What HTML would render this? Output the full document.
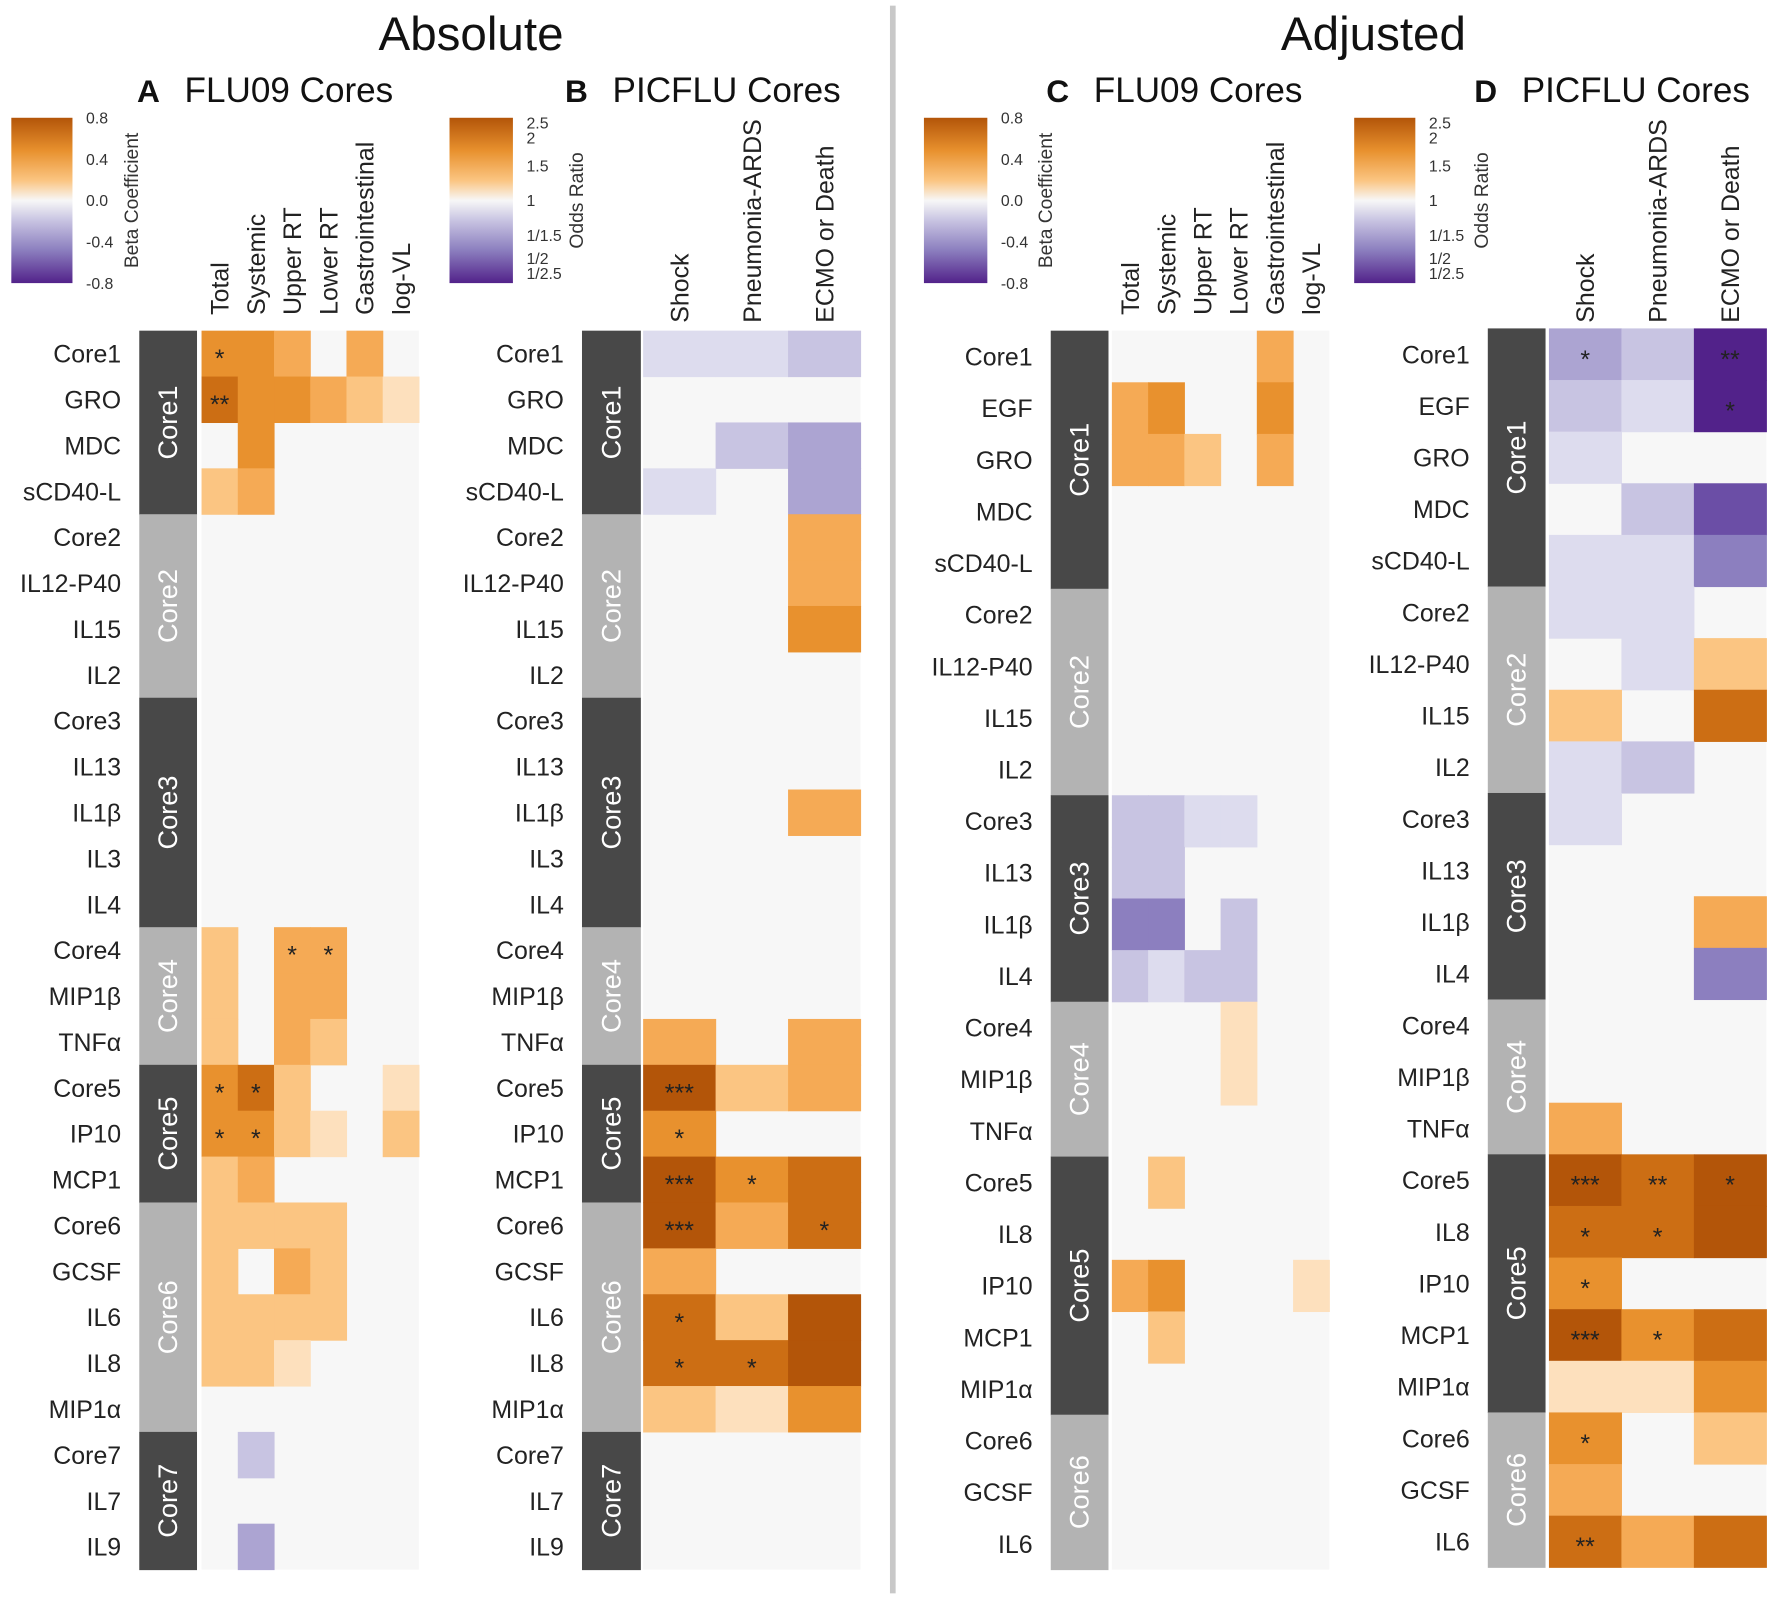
<!DOCTYPE html>
<html><head><meta charset="utf-8"><style>
html,body{margin:0;padding:0;background:#fff;}
svg{display:block;font-family:"Liberation Sans",Arial,sans-serif;}
</style></head><body>
<svg id="chart" width="1772" height="1599" viewBox="0 0 1565 1412" preserveAspectRatio="none" xmlns="http://www.w3.org/2000/svg">
<defs>
<linearGradient id="cb" x1="0" y1="0" x2="0" y2="1">
<stop offset="0" stop-color="#b35509"/><stop offset="0.2" stop-color="#e8912e"/><stop offset="0.38" stop-color="#fbc582"/><stop offset="0.5" stop-color="#f7f7f7"/><stop offset="0.62" stop-color="#c8c4e2"/><stop offset="0.8" stop-color="#8c7fbf"/><stop offset="1" stop-color="#52228a"/>
</linearGradient>
</defs>
<g id="root"></g>
</svg>
<script>
const rowsAB = ["Core1","GRO","MDC","sCD40-L","Core2","IL12-P40","IL15","IL2","Core3","IL13","IL1β","IL3","IL4","Core4","MIP1β","TNFα","Core5","IP10","MCP1","Core6","GCSF","IL6","IL8","MIP1α","Core7","IL7","IL9"];
const rowsCD = ["Core1","EGF","GRO","MDC","sCD40-L","Core2","IL12-P40","IL15","IL2","Core3","IL13","IL1β","IL4","Core4","MIP1β","TNFα","Core5","IL8","IP10","MCP1","MIP1α","Core6","GCSF","IL6"];
const coresAB = [["Core1",4,1],["Core2",4,0],["Core3",5,1],["Core4",3,0],["Core5",3,1],["Core6",5,0],["Core7",3,1]];
const coresCD = [["Core1",5,1],["Core2",4,0],["Core3",4,1],["Core4",3,0],["Core5",5,1],["Core6",3,0]];
const colsAC = ["Total","Systemic","Upper RT","Lower RT","Gastrointestinal","log-VL"];
const colsBD = ["Shock","Pneumonia-ARDS","ECMO or Death"];
const valsA = [[4,4,3,0,3,0],[5,4,4,3,2,1],[0,4,0,0,0,0],[2,3,0,0,0,0],[0,0,0,0,0,0],[0,0,0,0,0,0],[0,0,0,0,0,0],[0,0,0,0,0,0],[0,0,0,0,0,0],[0,0,0,0,0,0],[0,0,0,0,0,0],[0,0,0,0,0,0],[0,0,0,0,0,0],[2,0,3,3,0,0],[2,0,3,3,0,0],[2,0,3,2,0,0],[4,5,2,0,0,1],[4,4,2,1,0,2],[2,3,0,0,0,0],[2,2,2,2,0,0],[2,0,3,2,0,0],[2,2,2,2,0,0],[2,2,1,0,0,0],[0,0,0,0,0,0],[0,-2,0,0,0,0],[0,0,0,0,0,0],[0,-3,0,0,0,0]];
const starsA = [["*","","","","",""],["**","","","","",""],[],[],[],[],[],[],[],[],[],[],[],["","","*","*","",""],[],[],["*","*","","","",""],["*","*","","","",""],[],[],[],[],[],[],[],[],[]];
const valsB = [[-1,-1,-2],[0,0,0],[0,-2,-3],[-1,0,-3],[0,0,3],[0,0,3],[0,0,4],[0,0,0],[0,0,0],[0,0,0],[0,0,3],[0,0,0],[0,0,0],[0,0,0],[0,0,0],[3,0,3],[6,2,3],[4,0,0],[6,4,5],[6,3,5],[3,0,0],[5,2,6],[5,5,6],[2,1,4],[0,0,0],[0,0,0],[0,0,0]];
const starsB = [[],[],[],[],[],[],[],[],[],[],[],[],[],[],[],[],["***","",""],["*","",""],["***","*",""],["***","","*"],[],["*","",""],["*","*",""],[],[],[],[]];
const valsC = [[0,0,0,0,3,0],[3,4,0,0,4,0],[3,3,2,0,3,0],[0,0,0,0,0,0],[0,0,0,0,0,0],[0,0,0,0,0,0],[0,0,0,0,0,0],[0,0,0,0,0,0],[0,0,0,0,0,0],[-2,-2,-1,-1,0,0],[-2,-2,0,0,0,0],[-4,-4,0,-2,0,0],[-2,-1,-2,-2,0,0],[0,0,0,1,0,0],[0,0,0,1,0,0],[0,0,0,0,0,0],[0,2,0,0,0,0],[0,0,0,0,0,0],[3,4,0,0,0,1],[0,2,0,0,0,0],[0,0,0,0,0,0],[0,0,0,0,0,0],[0,0,0,0,0,0],[0,0,0,0,0,0]];
const starsC = [];
const valsD = [[-3,-2,-6],[-2,-1,-6],[-1,0,0],[0,-2,-5],[-1,-1,-4],[-1,-1,0],[0,-1,2],[2,0,5],[-1,-2,0],[-1,0,0],[0,0,0],[0,0,3],[0,0,-4],[0,0,0],[0,0,0],[3,0,0],[6,5,6],[5,5,6],[4,0,0],[6,4,5],[1,1,4],[4,0,2],[3,0,0],[5,3,5]];
const starsD = [["*","","**"],["","","*"],[],[],[],[],[],[],[],[],[],[],[],[],[],[],["***","**","*"],["*","*",""],["*","",""],["***","*",""],[],["*","",""],[],["**","",""]];
const colorPos = ["#f7f7f7","#fde0bd","#fbc582","#f5aa55","#e8912e","#cc6e14","#b35509"];
const colorNeg = ["#f7f7f7","#dddcee","#c8c4e2","#aca4d2","#8c7fbf","#6b4ea6","#52228a"];

const NS="http://www.w3.org/2000/svg";
const root=document.getElementById("root");
function mk(tag,attrs,parent){const e=document.createElementNS(NS,tag);for(const k in attrs)e.setAttribute(k,attrs[k]);(parent||root).appendChild(e);return e;}
function txt(s,attrs,parent){const e=mk("text",attrs,parent);e.textContent=s;return e;}
function color(v){return v>=0?colorPos[v]:colorNeg[-v];}

function panel(p){
  const g=mk("g",{});
  
  
  const n=p.rows.length, rh=(p.y1-p.y0)/n, cw=(p.cx1-p.cx0)/p.cols.length;
  const yS=i=>p.y0+i*rh, xS=j=>p.cx0+j*cw;
  const bg=mk("rect",{x:p.cx0,y:p.y0,width:p.cx1-p.cx0,height:p.y1-p.y0,fill:"#f7f7f7"},g);
  
  
  p.vals.forEach((row,i)=>row.forEach((v,j)=>{
    if(v===0)return;
    const r=mk("rect",{x:xS(j),y:yS(i),width:cw+0.5,height:rh+0.5,fill:color(v)},g);
    
    
  }));
  p.stars.forEach((row,i)=>(row||[]).forEach((s,j)=>{
    if(!s)return;
    const t=txt(s,{x:xS(j)+cw/2,y:yS(i)+rh/2+12,"text-anchor":"middle","font-size":22,fill:"#222"},g);
    
    
  }));
  p.rows.forEach((r,i)=>{
    const t=txt(r,{x:p.lx,y:yS(i)+rh/2+8,"text-anchor":"end","font-size":22,fill:"#222"},g);
    
    
  });
  let k=0;
  p.cores.forEach(c=>{
    const y=yS(k),h=c[1]*rh;k+=c[1];
    const r=mk("rect",{x:p.bx0,y:y,width:p.bx1-p.bx0,height:h+0.5,fill:c[2]?"#484848":"#b3b3b3"},g);
    
    
    const cx=(p.bx0+p.bx1)/2, cy=y+h/2;
    const t=txt(c[0],{x:cx,y:cy+8,"text-anchor":"middle","font-size":24,fill:"#fff",transform:`rotate(-90 ${cx} ${cy})`},g);
    
    
  });
  p.cols.forEach((c,j)=>{
    const cx=xS(j)+cw/2+8, cy=p.colY;
    const t=txt(c,{x:cx,y:cy,"text-anchor":"start","font-size":22,fill:"#222",transform:`rotate(-90 ${cx} ${cy})`},g);
    
    
  });
  const tl=txt(p.title,{x:p.tx,y:90,"font-size":31,fill:"#111"},g);
  
  
  const lt=txt(p.id,{x:p.tx-42,y:90,"font-size":28,"font-weight":"bold",fill:"#111"},g);
  
  
  const cb=mk("rect",{x:p.cbx,y:104,width:p.cbw,height:146,fill:"url(#cb)"},g);
  
  
  p.ticks.forEach((tk,i)=>{
    const t=txt(tk[0],{x:p.cbx+p.cbw+12,y:104+tk[1]*146+5,"font-size":14,fill:"#333"},g);
    
    
  });
  const ax=p.cbx+p.cbw+p.capOff, ay=177;
  const cap=txt(p.cap,{x:ax,y:ay,"text-anchor":"middle","font-size":17,fill:"#333",transform:`rotate(-90 ${ax} ${ay})`},g);
  
  
}
const betaTicks=[["0.8",0],["0.4",0.25],["0.0",0.5],["-0.4",0.75],["-0.8",1]];
const orTicks=[["2.5",0.03],["2",0.12],["1.5",0.29],["1",0.5],["1/1.5",0.71],["1/2",0.85],["1/2.5",0.94]];
panel({id:"A",title:"FLU09 Cores",tx:163,rows:rowsAB,cols:colsAC,vals:valsA,stars:starsA,cores:coresAB,y0:292,y1:1386,cx0:178,cx1:370,bx0:123,bx1:174,lx:107,colY:278,cbx:10,cbw:54,ticks:betaTicks,cap:"Beta Coefficient",capOff:58});
panel({id:"B",title:"PICFLU Cores",tx:541,rows:rowsAB,cols:colsBD,vals:valsB,stars:starsB,cores:coresAB,y0:292,y1:1386,cx0:568,cx1:760,bx0:514,bx1:566,lx:498,colY:285,cbx:397,cbw:56,ticks:orTicks,cap:"Odds Ratio",capOff:62});
panel({id:"C",title:"FLU09 Cores",tx:966,rows:rowsCD,cols:colsAC,vals:valsC,stars:starsC,cores:coresCD,y0:292,y1:1386,cx0:982,cx1:1174,bx0:928,bx1:979,lx:912,colY:278,cbx:816,cbw:56,ticks:betaTicks,cap:"Beta Coefficient",capOff:57});
panel({id:"D",title:"PICFLU Cores",tx:1344,rows:rowsCD,cols:colsBD,vals:valsD,stars:starsD,cores:coresCD,y0:290,y1:1384,cx0:1368,cx1:1560,bx0:1314,bx1:1365,lx:1298,colY:285,cbx:1196,cbw:54,ticks:orTicks,cap:"Odds Ratio",capOff:64});

const h1=txt("Absolute",{x:416,y:44,"text-anchor":"middle","font-size":42,fill:"#111"});


const h2=txt("Adjusted",{x:1213,y:44,"text-anchor":"middle","font-size":42,fill:"#111"});


const dv=mk("rect",{x:786,y:5,width:5,height:1402,fill:"#c8c8c8"});


</script>
</body></html>
